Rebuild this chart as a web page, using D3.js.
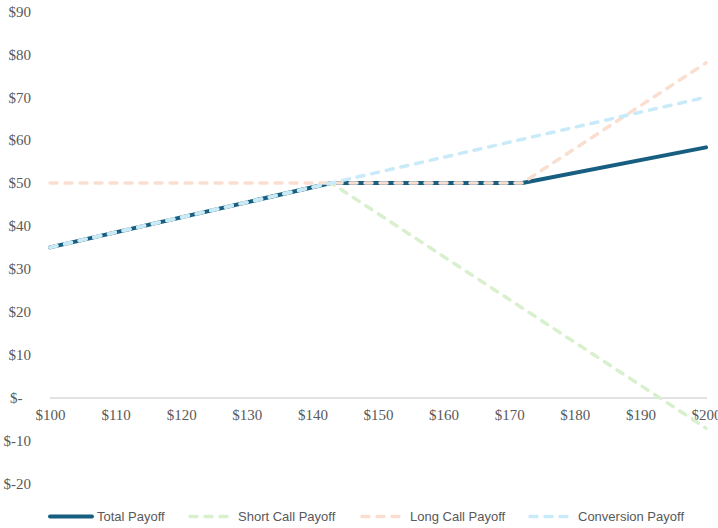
<!DOCTYPE html>
<html>
<head>
<meta charset="utf-8">
<script src="https://cdn.jsdelivr.net/npm/d3@7/dist/d3.min.js"></script>
<style>
  html, body { margin: 0; padding: 0; background: #fff; }
  svg { display: block; }
</style>
</head>
<body>
<svg id="chart" width="718" height="528"></svg>
<script>
// Stock prices at which the payoff profiles change slope
const prices = [100, 142.86, 172, 200];

// Payoff of each leg at those prices
const totalPayoff      = [35, 50, 50, 58.3];
const shortCallPayoff  = [35, 50, 20.86, -7.14];
const longCallPayoff   = [50, 50, 50, 78];
const conversionPayoff = [35, 50, 60.2, 70];

const seriesNames  = ["Total Payoff", "Short Call Payoff", "Long Call Payoff", "Conversion Payoff"];
const xTickValues  = [100, 110, 120, 130, 140, 150, 160, 170, 180, 190, 200];
const yTickValues  = [-20, -10, 0, 10, 20, 30, 40, 50, 60, 70, 80, 90];

const svg = d3.select("#chart");

const x = d3.scaleLinear().domain([100, 200]).range([50, 706]);
const y = d3.scaleLinear().domain([-20, 90]).range([483.3, 11.4]);

const series = [
  { name: seriesNames[0], values: totalPayoff,      color: "#175e80", width: 4,   dash: null },
  { name: seriesNames[1], values: shortCallPayoff,  color: "#d8f0cd", width: 3.5, dash: "7 8" },
  { name: seriesNames[2], values: longCallPayoff,   color: "#fadfd1", width: 3.5, dash: "7 8" },
  { name: seriesNames[3], values: conversionPayoff, color: "#c9eaf9", width: 3.5, dash: "7 8" }
];

const money = v => v === 0 ? "$-" : (v < 0 ? "$-" + Math.abs(v) : "$" + v);

// Y axis: labels only
const yAxis = svg.append("g")
  .attr("transform", "translate(34,0)")
  .call(d3.axisLeft(y).tickValues(yTickValues).tickSize(0).tickPadding(3).tickFormat(money));
yAxis.select(".domain").remove();
yAxis.selectAll("text")
  .attr("font-family", "'Liberation Serif', serif")
  .attr("font-size", 15)
  .attr("fill", "#595959");
// accounting-style zero label sits further left
yAxis.selectAll(".tick").filter(d => d === 0).select("text").attr("x", -11.5);

// X axis along the zero line
const xAxis = svg.append("g")
  .attr("transform", `translate(0,${y(0)})`)
  .call(d3.axisBottom(x).tickValues(xTickValues).tickSize(0).tickPadding(12).tickFormat(money));
xAxis.select(".domain")
  .attr("stroke", "#d9d9d9")
  .attr("stroke-width", 1.3)
  .attr("stroke-linecap", "square");
xAxis.selectAll("text")
  .attr("font-family", "'Liberation Serif', serif")
  .attr("font-size", 15)
  .attr("fill", "#595959");

// Payoff lines
const line = d3.line()
  .x((d, i) => x(prices[i]))
  .y(d => y(d));

svg.append("g").selectAll("path")
  .data(series)
  .join("path")
  .attr("d", s => line(s.values))
  .attr("fill", "none")
  .attr("stroke", s => s.color)
  .attr("stroke-width", s => s.width)
  .attr("stroke-dasharray", s => s.dash)
  .attr("stroke-linecap", "round")
  .attr("stroke-linejoin", "round");

// Legend
const legendX = [48, 188, 360, 528];
const legendY = 516.5;
const legend = svg.append("g").selectAll("g")
  .data(series)
  .join("g")
  .attr("transform", (s, i) => `translate(${legendX[i]},${legendY})`);

legend.append("line")
  .attr("x1", 2).attr("x2", s => s.dash ? 41 : 44)
  .attr("y1", 0).attr("y2", 0)
  .attr("stroke", s => s.color)
  .attr("stroke-width", s => s.width)
  .attr("stroke-dasharray", s => s.dash)
  .attr("stroke-linecap", "round");

legend.append("text")
  .attr("x", (s, i) => i === 0 ? 49 : 50)
  .attr("y", 0)
  .attr("dy", "0.35em")
  .attr("font-family", "'Liberation Sans', Arial, sans-serif")
  .attr("font-size", 13)
  .attr("fill", "#595959")
  .text(s => s.name);
</script>
</body>
</html>
